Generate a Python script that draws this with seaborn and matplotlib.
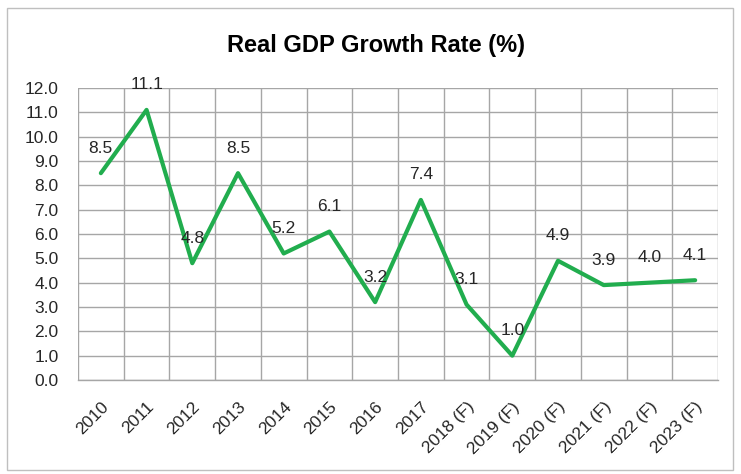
import matplotlib
matplotlib.use("Agg")
import matplotlib.pyplot as plt
import seaborn as sns
import pandas as pd
from matplotlib.patches import Rectangle

years = ["2010", "2011", "2012", "2013", "2014", "2015", "2016", "2017",
         "2018 (F)", "2019 (F)", "2020 (F)", "2021 (F)", "2022 (F)", "2023 (F)"]
growth = [8.5, 11.1, 4.8, 8.5, 5.2, 6.1, 3.2, 7.4, 3.1, 1.0, 4.9, 3.9, 4.0, 4.1]
yticks = [0.0, 1.0, 2.0, 3.0, 4.0, 5.0, 6.0, 7.0, 8.0, 9.0, 10.0, 11.0, 12.0]
title = "Real GDP Growth Rate (%)"

df = pd.DataFrame({"year": years, "growth": growth})

sns.set_theme(style="white")
plt.rcParams['font.family'] = ['Liberation Sans Narrow', 'Liberation Sans', 'DejaVu Sans']

fig = plt.figure(figsize=(7.41, 4.74), dpi=100)
ax = fig.add_axes([78/741, 1-380/474, 640/741, 292/474])

x = list(range(len(years)))
sns.lineplot(x=x, y=df["growth"], ax=ax, color="#21AD4E", linewidth=3)

ax.set_xlim(-0.5, len(years) - 0.5)
ax.set_ylim(0, 12)
ax.set_yticks(yticks)
ax.set_yticklabels([f"{v:.1f}" for v in yticks], fontsize=12.5, color="#262626")
ax.set_xticks([i - 0.5 for i in range(len(years) + 1)], minor=False)
ax.set_xticklabels([])
ax.set_xticks(x, minor=True)
ax.set_xticklabels(years, minor=True, rotation=45, ha="right", va="top",
                   rotation_mode="anchor", fontsize=12.5, color="#262626")
ax.tick_params(axis="x", which="both", length=0, pad=14)
ax.tick_params(axis="y", length=0, pad=14)
for lab in ax.get_xticklabels(minor=True):
    lab.set_x(lab.get_position()[0])

ax.grid(True, which="major", color="#A6A6A6", linewidth=1)
ax.set_axisbelow(True)
for s in ["top", "right", "left"]:
    ax.spines[s].set_visible(False)
ax.spines["bottom"].set_color("#A6A6A6")
ax.spines["bottom"].set_linewidth(1)
ax.set_xlabel("")
ax.set_ylabel("")

for xi, v in zip(x, growth):
    ax.annotate(f"{v:.1f}", (xi, v), textcoords="offset pixels", xytext=(0, 25),
                ha="center", va="center", fontsize=12.5, color="#262626")

fig.text(376/741, 1-45/474, title, ha="center", va="center",
         fontsize=17, fontweight="bold", color="#000000")

fig.patches.append(Rectangle((7/741, 4/474), 726/741, 462/474, transform=fig.transFigure,
                             fill=False, edgecolor="#BFBFBF", linewidth=1))

fig.savefig("out.png", dpi=100)
